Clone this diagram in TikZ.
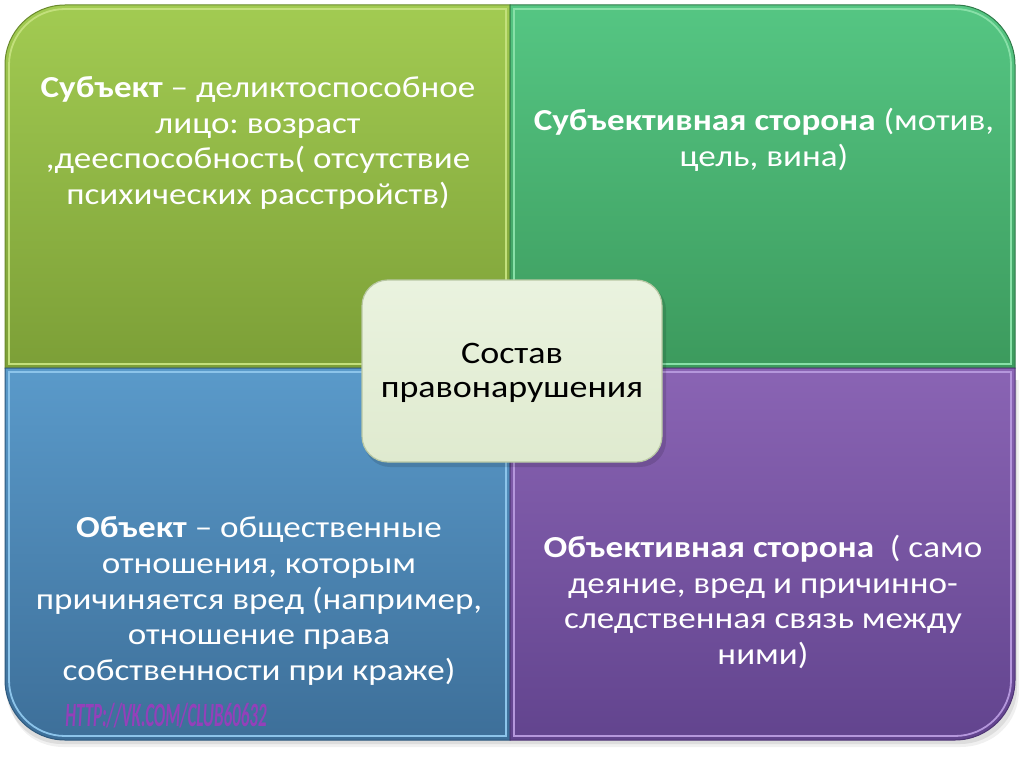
\documentclass[tikz,border=0pt]{standalone}
\usepackage{fontspec}
\usepackage{graphicx}
\setmainfont{Carlito}[FakeStretch=1.15]
\newfontfamily\wmfont{Carlito}
\frenchspacing
\definecolor{tlTop}{HTML}{A2CB52}
\definecolor{tlBot}{HTML}{7C9F37}
\definecolor{tlHi}{HTML}{C3E07C}
\definecolor{tlEdge}{HTML}{6A8A2C}
\definecolor{trTop}{HTML}{55C683}
\definecolor{trBot}{HTML}{3C9A5D}
\definecolor{trHi}{HTML}{88E0A8}
\definecolor{trEdge}{HTML}{2F7A49}
\definecolor{blTop}{HTML}{5A9ACA}
\definecolor{blBot}{HTML}{3D6F99}
\definecolor{blHi}{HTML}{8CC4EA}
\definecolor{blEdge}{HTML}{2F5A7E}
\definecolor{brTop}{HTML}{8A64B4}
\definecolor{brBot}{HTML}{62448E}
\definecolor{brHi}{HTML}{B597DC}
\definecolor{brEdge}{HTML}{4F3575}
\definecolor{ctrTop}{HTML}{EAF3DF}
\definecolor{ctrBot}{HTML}{DFEACF}
\definecolor{ctrEdge}{HTML}{B9C8A4}
\definecolor{wmark}{HTML}{9440BA}
\tikzset{
  qtext/.style={text=white, align=center, inner sep=0pt,
    font=\fontsize{30.5}{35.8}\selectfont},
  ctext/.style={text=black, align=center, inner sep=0pt,
    font=\fontsize{31.3}{34}\selectfont},
  hiline/.style={line width=1.8pt},
  edgeline/.style={line width=1pt}
}
\begin{document}
\begin{tikzpicture}[x=1pt,y=-1pt]
\useasboundingbox (0,0) rectangle (1024,767);
\fill[white] (0,0) rectangle (1024,767);
% soft shadow
\fill[black, opacity=0.06] (8,380) -- (8,690) .. controls (8,722) and (30,747) .. (64,747) -- (960,747) .. controls (994,747) and (1019,722) .. (1019,690) -- (1019,380) -- cycle;
\fill[black, opacity=0.08] (6,380) -- (6,688) .. controls (6,718) and (30,744) .. (62,744) -- (960,744) .. controls (992,744) and (1017,718) .. (1017,688) -- (1017,380) -- cycle;
% top-left quadrant
\shade[top color=tlTop, bottom color=tlBot] (5,368) -- (5,65) .. controls (5,31.9) and (31.9,5) .. (65,5) -- (510,5) -- (510,368) -- cycle;
\draw[tlHi, hiline] (9,364) -- (9,65) .. controls (9,34.1) and (34.1,9) .. (65,9) -- (506,9) -- (506,364) -- cycle;
\draw[tlEdge, edgeline] (5,368) -- (5,65) .. controls (5,31.9) and (31.9,5) .. (65,5) -- (510,5) -- (510,368) -- cycle;
% top-right quadrant
\shade[top color=trTop, bottom color=trBot] (510,5) -- (955,5) .. controls (988.1,5) and (1015,31.9) .. (1015,65) -- (1015,368) -- (510,368) -- cycle;
\draw[trHi, hiline] (514,9) -- (955,9) .. controls (985.9,9) and (1011,34.1) .. (1011,65) -- (1011,364) -- (514,364) -- cycle;
\draw[trEdge, edgeline] (510,5) -- (955,5) .. controls (988.1,5) and (1015,31.9) .. (1015,65) -- (1015,368) -- (510,368) -- cycle;
% bottom-left quadrant
\shade[top color=blTop, bottom color=blBot] (5,368) -- (510,368) -- (510,740) -- (65,740) .. controls (31.9,740) and (5,713.1) .. (5,680) -- cycle;
\draw[blHi, hiline] (9,372) -- (506,372) -- (506,736) -- (65,736) .. controls (34.1,736) and (9,710.9) .. (9,680) -- cycle;
\draw[blEdge, edgeline] (5,368) -- (510,368) -- (510,740) -- (65,740) .. controls (31.9,740) and (5,713.1) .. (5,680) -- cycle;
% bottom-right quadrant
\shade[top color=brTop, bottom color=brBot] (510,368) -- (1015,368) -- (1015,680) .. controls (1015,713.1) and (988.1,740) .. (955,740) -- (510,740) -- cycle;
\draw[brHi, hiline] (514,372) -- (1011,372) -- (1011,680) .. controls (1011,710.9) and (985.9,736) .. (955,736) -- (514,736) -- cycle;
\draw[brEdge, edgeline] (510,368) -- (1015,368) -- (1015,680) .. controls (1015,713.1) and (988.1,740) .. (955,740) -- (510,740) -- cycle;
% quadrant texts
\node[qtext] (subj) at (258,143) {\textbf{Субъект} – деликтоспособное\\лицо: возраст\\,дееспособность( отсутствие\\психических расстройств)};
\node[qtext] (subjside) at (764,140) {\textbf{Субъективная сторона} (мотив,\\цель, вина)};
\node[qtext] (obj) at (259,601) {\textbf{Объект} – общественные\\отношения, которым\\причиняется вред (например,\\отношение права\\собственности при краже)};
\node[qtext] (objside) at (763,602) {\textbf{Объективная сторона}\ \ ( само\\деяние, вред и причинно-\\следственная связь между\\ними)};
% watermark
\node[inner sep=0pt, text=wmark, font=\wmfont\fontsize{34}{34}\selectfont\bfseries\itshape] (wm) at (166,716) {\scalebox{0.5}[1]{HTTP://VK.COM/CLUB60632}};
% center box
\fill[black, opacity=0.12, rounded corners=26pt] (364,284) rectangle (666,467);
\shade[top color=ctrTop, bottom color=ctrBot, rounded corners=26pt] (362,280) rectangle (662,462);
\draw[ctrEdge, line width=1.2pt, rounded corners=26pt] (362,280) rectangle (662,462);
\node[ctext] (center) at (512,373) {Состав\\правонарушения};
\end{tikzpicture}
\end{document}
